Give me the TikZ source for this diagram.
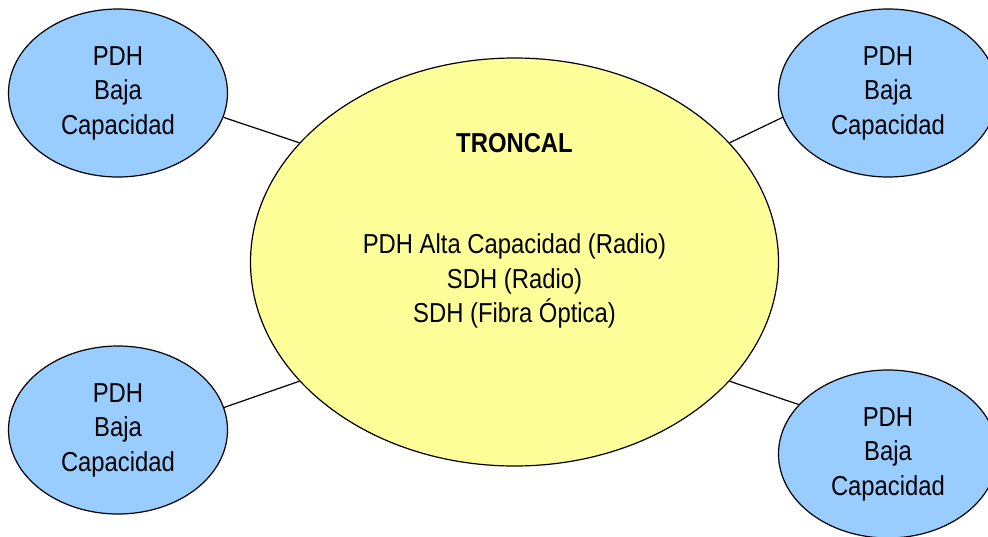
\documentclass[tikz,border=0pt]{standalone}
\usepackage{fontspec}
\setmainfont[FakeStretch=0.87]{Liberation Sans}
\usetikzlibrary{shapes.geometric}

\definecolor{troncalfill}{HTML}{FFFF99}
\definecolor{pdhfill}{HTML}{99CCFF}

\begin{document}
\begin{tikzpicture}[x = 1pt, y = -1pt,
            troncal/.style={ellipse, draw, line width=1.2pt, fill=troncalfill, inner sep=0pt, minimum width=528pt, minimum height=408pt},
            pdh/.style={ellipse, draw, line width=1.2pt, fill=pdhfill, inner sep=0pt, minimum width=219pt, minimum height=168pt, align=center, font=\fontsize{27.4}{34.5}\selectfont},
            texto/.style={align=center, font=\fontsize{27.4}{34.5}\selectfont},
            enlace/.style={line width=1.2pt}
        ]
            \useasboundingbox (0,0) rectangle (988,536);

            % Nodes
            \node[troncal] (tr) at (514.5,262) {};
            \node[texto, font=\fontsize{27.4}{34.5}\selectfont\bfseries, anchor=base] (titulo) at (514.5,152) {TRONCAL};
            \node[texto] (tecnologias) at (514.5,281) {PDH Alta Capacidad (Radio)\\SDH (Radio)\\SDH (Fibra Óptica)};

            \node[pdh] (p1) at (118,93) {PDH\\Baja\\Capacidad};
            \node[pdh] (p2) at (888,93) {PDH\\Baja\\Capacidad};
            \node[pdh] (p3) at (118,430) {PDH\\Baja\\Capacidad};
            \node[pdh] (p4) at (888,454) {PDH\\Baja\\Capacidad};

            % Paths: enlaces a la troncal
            \draw[enlace] (tr.151) -- (p1.-13);
            \draw[enlace] (tr.29) -- (p2.193);
            \draw[enlace] (tr.209) -- (p3.12);
            \draw[enlace] (tr.-29) -- (p4.151);
        \end{tikzpicture}
\end{document}
